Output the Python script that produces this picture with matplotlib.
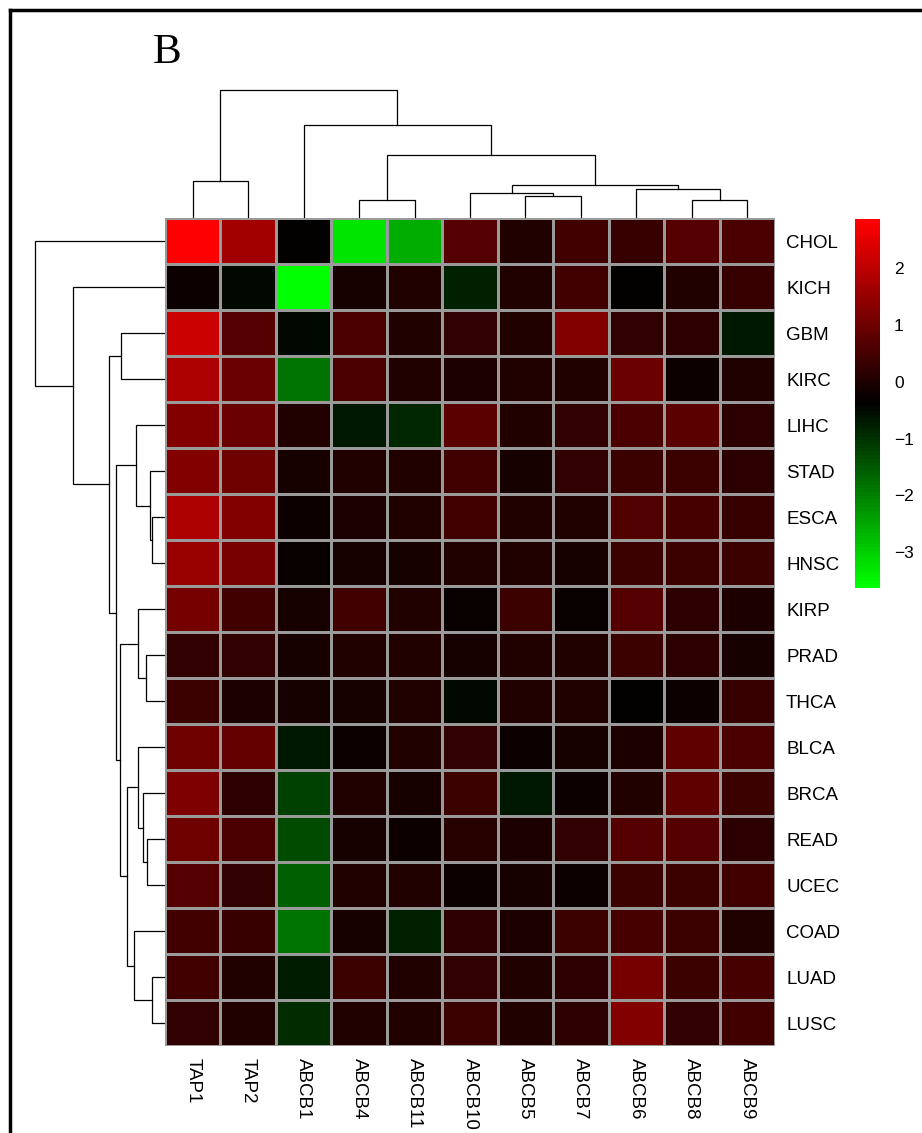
import numpy as np
import matplotlib
matplotlib.use("Agg")
import matplotlib.pyplot as plt
from matplotlib.colors import LinearSegmentedColormap

plt.rcParams['font.family'] = ['Liberation Sans', 'DejaVu Sans']

# genes (columns) and cancer types (rows), in dendrogram order
genes = ["TAP1", "TAP2", "ABCB1", "ABCB4", "ABCB11", "ABCB10",
         "ABCB5", "ABCB7", "ABCB6", "ABCB8", "ABCB9"]
cancers = ["CHOL", "KICH", "GBM", "KIRC", "LIHC", "STAD", "ESCA", "HNSC",
           "KIRP", "PRAD", "THCA", "BLCA", "BRCA", "READ", "UCEC", "COAD",
           "LUAD", "LUSC"]

# log2 fold change values, one list per cancer type
CHOL = [2.87, 1.66, -0.38, -3.24, -2.55, 0.70, 0.05, 0.40, 0.33, 0.70, 0.56]
KICH = [-0.25, -0.48, -3.63, -0.07, 0.03, -0.81, 0.03, 0.44, -0.35, 0.03, 0.33]
GBM = [2.22, 0.70, -0.51, 0.56, 0.03, 0.23, 0.05, 1.25, 0.23, 0.16, -0.65]
KIRC = [1.79, 0.92, -1.81, 0.56, 0.03, -0.02, 0.05, 0.05, 0.97, -0.25, 0.03]
LIHC = [1.25, 0.92, 0.03, -0.65, -0.85, 0.77, 0.05, 0.23, 0.56, 0.77, 0.16]
STAD = [1.25, 1.00, -0.11, 0.03, 0.05, 0.46, -0.11, 0.23, 0.36, 0.36, 0.18]
ESCA = [1.79, 1.25, -0.25, -0.02, 0.03, 0.46, 0.05, 0.05, 0.64, 0.49, 0.33]
HNSC = [1.53, 1.15, -0.28, -0.11, -0.11, 0.03, 0.05, -0.11, 0.36, 0.36, 0.36]
KIRP = [1.05, 0.46, -0.11, 0.44, 0.03, -0.28, 0.36, -0.28, 0.67, 0.16, -0.02]
PRAD = [0.23, 0.23, -0.07, 0.03, 0.03, -0.07, 0.03, 0.03, 0.36, 0.18, -0.07]
THCA = [0.36, -0.02, -0.07, -0.11, 0.03, -0.51, 0.03, 0.03, -0.35, -0.25, 0.33]
BLCA = [1.02, 0.87, -0.65, -0.25, 0.03, 0.23, -0.25, -0.07, -0.02, 0.84, 0.54]
BRCA = [1.18, 0.18, -1.20, 0.03, -0.11, 0.36, -0.65, -0.25, 0.03, 0.84, 0.36]
READ = [1.02, 0.54, -1.35, -0.07, -0.25, 0.13, -0.02, 0.23, 0.67, 0.67, 0.18]
UCEC = [0.72, 0.23, -1.60, 0.03, 0.03, -0.25, -0.07, -0.25, 0.36, 0.36, 0.46]
COAD = [0.44, 0.28, -1.81, -0.07, -0.81, 0.16, -0.05, 0.36, 0.49, 0.36, 0.05]
LUAD = [0.44, 0.03, -0.71, 0.36, 0.05, 0.23, 0.05, 0.18, 1.05, 0.36, 0.49]
LUSC = [0.23, 0.05, -0.92, 0.05, 0.03, 0.36, 0.05, 0.18, 1.25, 0.23, 0.46]

values = np.array([CHOL, KICH, GBM, KIRC, LIHC, STAD, ESCA, HNSC, KIRP, PRAD,
                   THCA, BLCA, BRCA, READ, UCEC, COAD, LUAD, LUSC])

# cluster merges: (child a, child b, height); new nodes numbered after leaves
col_merges = [(3, 4, 18), (9, 10, 18), (6, 7, 22), (5, 13, 25), (8, 12, 29),
              (14, 15, 33), (0, 1, 37), (11, 16, 63), (2, 18, 93), (17, 19, 128)]
row_merges = [(6, 7, 13), (16, 17, 13), (5, 18, 15), (13, 14, 18), (9, 10, 19),
              (12, 21, 22), (11, 23, 27), (8, 22, 27), (4, 20, 29), (15, 19, 31),
              (24, 27, 38), (2, 3, 44), (25, 28, 45), (26, 30, 49), (29, 31, 56),
              (1, 32, 92), (0, 33, 130)]


def draw_dendrogram(ax, merges, n_leaves, orient):
    pos = {i: i + 0.5 for i in range(n_leaves)}
    hgt = {i: 0.0 for i in range(n_leaves)}
    for k, (a, b, h) in enumerate(merges):
        p = [pos[a], pos[a], pos[b], pos[b]]
        q = [hgt[a], h, h, hgt[b]]
        if orient == "top":
            ax.plot(p, q, color="black", lw=0.9, solid_joinstyle="miter")
        else:
            ax.plot(q, p, color="black", lw=0.9, solid_joinstyle="miter")
        node = n_leaves + k
        pos[node] = (pos[a] + pos[b]) / 2
        hgt[node] = h
    ax.axis("off")


W, H = 922, 1133
fig = plt.figure(figsize=(W / 100, H / 100), dpi=100)


def px_axes(x0, y0, x1, y1):
    return fig.add_axes([x0 / W, 1 - y1 / H, (x1 - x0) / W, (y1 - y0) / H])


# heatmap
hx0, hy0, hx1, hy1 = 165, 218, 775, 1046
ax = px_axes(hx0, hy0, hx1, hy1)
cmap = LinearSegmentedColormap.from_list("gkr", ["#00FF00", "#000000", "#FF0000"], N=100)
vmin, vmax = values.min(), values.max()
mesh = ax.pcolormesh(values, cmap=cmap, vmin=vmin, vmax=vmax,
                     edgecolors="#9a9a9a", linewidth=0.75)
ax.set_xlim(0, len(genes))
ax.set_ylim(len(cancers), 0)
ax.set_xticks(np.arange(len(genes)) + 0.5)
ax.set_xticklabels(genes, rotation=270, fontsize=13.5)
ax.set_yticks(np.arange(len(cancers)) + 0.5)
ax.set_yticklabels(cancers, fontsize=13.5)
ax.yaxis.tick_right()
ax.tick_params(length=0, pad=8)
ax.tick_params(axis="x", pad=9)
for s in ax.spines.values():
    s.set_visible(False)

# column dendrogram
axc = px_axes(hx0, 88, hx1, hy0)
draw_dendrogram(axc, col_merges, len(genes), "top")
axc.set_xlim(0, len(genes))
axc.set_ylim(0, 130)

# row dendrogram
axr = px_axes(30, hy0, hx0, hy1)
draw_dendrogram(axr, row_merges, len(cancers), "left")
axr.set_ylim(len(cancers), 0)
axr.set_xlim(135, 0)

# colour key
axk = px_axes(855, 219, 880, 588)
cb = fig.colorbar(mesh, cax=axk, ticks=[-3, -2, -1, 0, 1, 2])
cb.outline.set_visible(False)
axk.tick_params(length=0, pad=10, labelsize=12.5)

# panel letter and frame
fig.text(153 / W, 1 - 63 / H, "B", fontsize=31, family="Liberation Serif",
         ha="left", va="baseline")
fig.add_artist(plt.Line2D([10 / W, 10 / W], [0, 1 - 10 / H], color="black", lw=2.5,
                          transform=fig.transFigure))
fig.add_artist(plt.Line2D([10 / W, 1], [1 - 10 / H, 1 - 10 / H], color="black", lw=2.5,
                          transform=fig.transFigure))

fig.savefig("out.png", dpi=100)
